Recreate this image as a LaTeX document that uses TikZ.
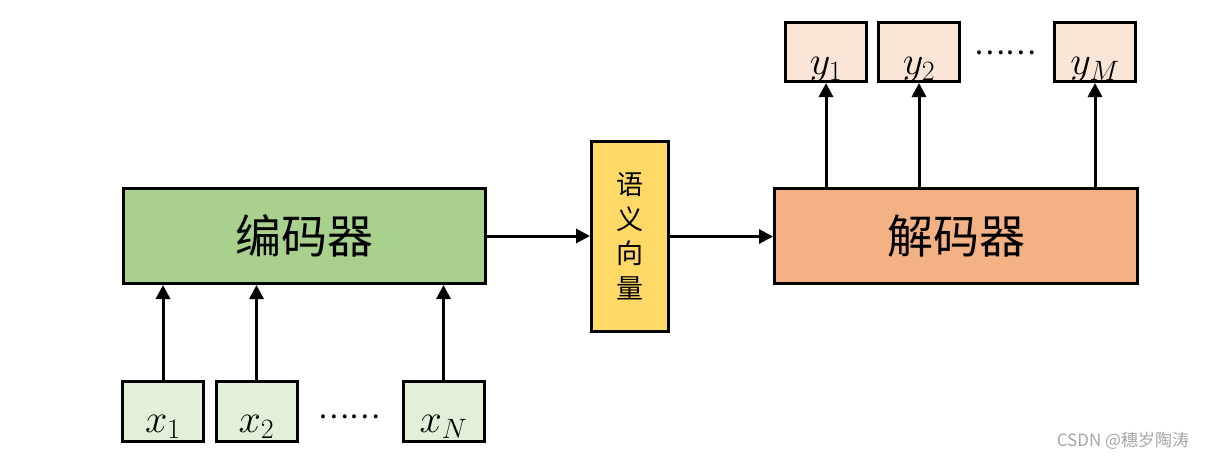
\RequirePackage{fix-cm}
\documentclass[tikz,border=0pt]{standalone}
\usepackage{fontspec}
\newfontfamily\cjk{Noto Sans CJK SC}
\usetikzlibrary{arrows.meta}
\definecolor{encg}{HTML}{A9D18E}
\definecolor{xg}{HTML}{E2F0D9}
\definecolor{semy}{HTML}{FFD966}
\definecolor{deco}{HTML}{F4B183}
\definecolor{yo}{HTML}{FBE5D6}
\definecolor{wm}{HTML}{A6A6A6}
\begin{document}
\begin{tikzpicture}[x=1pt,y=-1pt,
  box/.style={draw=black,line width=3pt,inner sep=0pt},
  arr/.style={line width=3pt,-{Triangle[length=14pt,width=14pt]}},
  lab/.style={inner sep=0pt,font=\fontsize{40}{40}\selectfont},
  dotsty/.style={inner sep=0pt,font=\cjk\fontsize{29}{29}\selectfont},
  big/.style={font=\cjk\fontsize{46}{46}\selectfont}]
\useasboundingbox (0,0) rectangle (1207,459);
% encoder side
\node[box,fill=encg,minimum width=362pt,minimum height=95pt,big] (enc) at (304.5,236) {\raisebox{-3pt}{编码器}};
\node[box,fill=xg,minimum width=81pt,minimum height=60pt] (x1) at (163,411.5) {};
\node[box,fill=xg,minimum width=81pt,minimum height=60pt] (x2) at (256.5,411.5) {};
\node[box,fill=xg,minimum width=81pt,minimum height=60pt] (xN) at (443.5,411.5) {};
\node[lab,anchor=base] (lx1) at ([yshift=-20.5pt]x1.center) {$x_1$};
\node[lab,anchor=base] (lx2) at ([yshift=-20.5pt]x2.center) {$x_2$};
\node[lab,anchor=base] (lxN) at ([yshift=-20.5pt]xN.center) {$x_N$};
\node[dotsty] (xdots) at (349,417) {……};
% semantic vector
\node[box,fill=semy,minimum width=77pt,minimum height=190pt,align=center,
  font=\cjk\fontsize{27}{34.5}\selectfont] (sem) at (630,236.5) {语\\义\\向\\量};
% decoder side
\node[box,fill=deco,minimum width=363pt,minimum height=95pt,big] (dec) at (956,236) {\raisebox{-3pt}{解码器}};
\node[box,fill=yo,minimum width=81pt,minimum height=59pt] (y1) at (826,52) {};
\node[box,fill=yo,minimum width=81pt,minimum height=59pt] (y2) at (919,52) {};
\node[box,fill=yo,minimum width=81pt,minimum height=59pt] (yM) at (1095,52) {};
\node[lab,anchor=base] (ly1) at ([yshift=-22pt]y1.center) {$y_1$};
\node[lab,anchor=base] (ly2) at ([yshift=-22pt]y2.center) {$y_2$};
\node[lab,anchor=base] (lyM) at ([yshift=-22pt]yM.center) {$y_M$};
\node[dotsty] (ydots) at (1005,53) {……};
% arrows
\draw[arr] (x1.north) -- (x1.north |- enc.south);
\draw[arr] (x2.north) -- (x2.north |- enc.south);
\draw[arr] (xN.north) -- (xN.north |- enc.south);
\draw[arr] (enc.east) -- (enc.east -| sem.west);
\draw[arr] (sem.east) -- (sem.east -| dec.west);
\draw[arr] (y1.south |- dec.north) -- (y1.south);
\draw[arr] (y2.south |- dec.north) -- (y2.south);
\draw[arr] (yM.south |- dec.north) -- (yM.south);
% watermark
\node[inner sep=0pt,text=wm,font=\cjk\fontsize{17}{17}\selectfont] (wmk) at (1123,441) {CSDN @穗岁陶涛};
\end{tikzpicture}
\end{document}
